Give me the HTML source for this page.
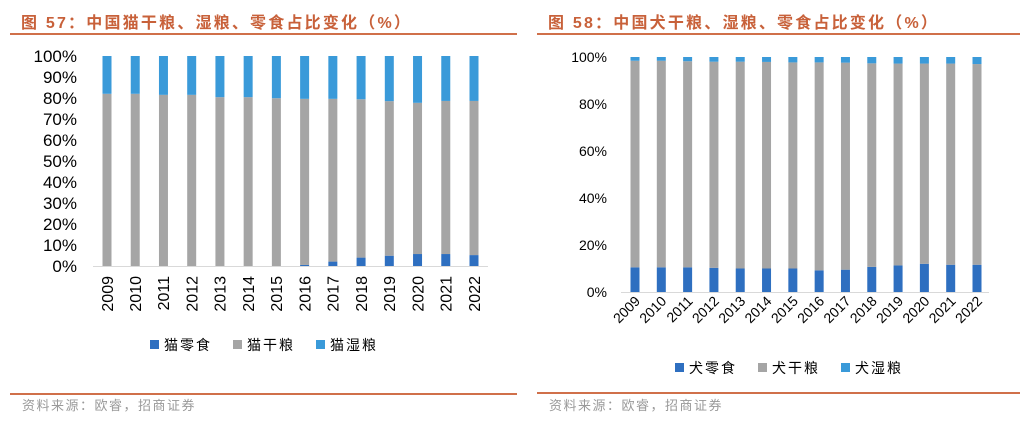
<!DOCTYPE html>
<html><head><meta charset="utf-8">
<style>
body{margin:0;background:#fff;width:1030px;height:425px;overflow:hidden;font-family:"Liberation Sans","Noto Sans CJK SC",sans-serif;}
svg{display:block}
</style></head>
<body>
<svg id="chart" width="1030" height="425" xmlns="http://www.w3.org/2000/svg">
<g>
<text x="21" y="28" font-size="16" font-weight="bold" fill="#c8613a" letter-spacing="2.2" font-family="'Liberation Sans','Noto Sans CJK SC',sans-serif">图 57：中国猫干粮、湿粮、零食占比变化（%）</text>
<rect x="10" y="33" width="507" height="2" fill="#d0704a"/>
<rect x="10" y="393" width="507" height="2" fill="#d0704a"/>
<text x="22" y="410" font-size="13" fill="#999" letter-spacing="1.5" font-family="'Liberation Sans','Noto Sans CJK SC',sans-serif">资料来源：欧睿，招商证券</text>
</g>
<g>
<text x="548" y="28" font-size="16" font-weight="bold" fill="#c8613a" letter-spacing="2.2" font-family="'Liberation Sans','Noto Sans CJK SC',sans-serif">图 58：中国犬干粮、湿粮、零食占比变化（%）</text>
<rect x="537" y="33" width="483" height="2" fill="#d0704a"/>
<rect x="537" y="392" width="483" height="2" fill="#d0704a"/>
<text x="549" y="410" font-size="13" fill="#999" letter-spacing="1.5" font-family="'Liberation Sans','Noto Sans CJK SC',sans-serif">资料来源：欧睿，招商证券</text>
</g>
<g id="left"></g>
<g id="right"></g>
</svg>
<script>
const years = ["2009","2010","2011","2012","2013","2014","2015","2016","2017","2018","2019","2020","2021","2022"];
const catSnack = [0,0,0,0,0,0,0,0.5,2.1,4.0,4.9,5.7,5.7,5.2];
const catDry = [82.0,82.0,81.5,81.5,80.4,80.4,79.9,79.1,77.5,75.4,73.6,72.0,72.9,73.4];
const catWet = [18.0,18.0,18.5,18.5,19.6,19.6,20.1,20.4,20.4,20.6,21.5,22.3,21.4,21.4];
const dogSnack = [10.5,10.5,10.5,10.3,10.0,10.0,10.0,9.2,9.5,10.7,11.3,12.0,11.6,11.6];
const dogDry = [87.9,87.9,87.7,87.7,88.0,87.9,87.7,88.5,88.1,86.6,85.9,85.2,85.6,85.4];
const dogWet = [1.6,1.6,1.8,2.0,2.0,2.1,2.3,2.3,2.4,2.7,2.8,2.8,2.8,3.0];
const catTicks = [0,10,20,30,40,50,60,70,80,90,100];
const dogTicks = [0,20,40,60,80,100];
const catLegend = ["猫零食","猫干粮","猫湿粮"];
const dogLegend = ["犬零食","犬干粮","犬湿粮"];
const colors = ["#2e6fc0","#a5a5a5","#3a9ad9"];
const NS = "http://www.w3.org/2000/svg";
function mk(parent, tag, attrs, text){
  const e = document.createElementNS(NS, tag);
  for (const k in attrs) e.setAttribute(k, attrs[k]);
  if (text !== undefined) e.textContent = text;
  parent.appendChild(e); return e;
}
function draw(g, cfg){
  const y = v => cfg.y0 - (cfg.y0 - cfg.y100) * v / 100;
  const x = i => cfg.xFirst + (cfg.xLast - cfg.xFirst) * i / (years.length - 1);
  cfg.ticks.forEach(t => {
    const tl = mk(g, "text", {x: cfg.labelX, y: y(t) + cfg.fs*0.36, "font-size": cfg.fs, "text-anchor": "end", fill: "#000"}, t + "%");
    
    
  });
  const series = [cfg.s1, cfg.s2, cfg.s3];
  years.forEach((yr, i) => {
    let base = 0;
    series.forEach((s, k) => {
      const v = s[i];
      if (v > 0) {
        const r = mk(g, "rect", {x: x(i) - cfg.bw/2, y: y(base + v), width: cfg.bw, height: y(base) - y(base + v), fill: colors[k]});
        
        
      }
      base += v;
    });
    let lab;
    if (cfg.rot === 90) {
      lab = mk(g, "text", {x: 0, y: 0, "font-size": cfg.xfs, "text-anchor": "end", fill: "#000",
        transform: `translate(${x(i) + cfg.xfs*0.36},${cfg.y0 + 10}) rotate(-90)`}, yr);
    } else {
      lab = mk(g, "text", {x: 0, y: 0, "font-size": cfg.xfs, "text-anchor": "end", fill: "#000",
        transform: `translate(${x(i) + 6},${cfg.y0 + 10}) rotate(-45)`}, yr);
    }
    
    
  });
  const ax = mk(g, "line", {x1: cfg.axL, x2: cfg.axR, y1: cfg.y0 + 0.5, y2: cfg.y0 + 0.5, stroke: "#d9d9d9", "stroke-width": 1});
  
  
  cfg.legend.forEach((name, k) => {
    const lx = cfg.legX + k * 83;
    const sq = mk(g, "rect", {x: lx, y: cfg.legY - 5, width: 9, height: 9, fill: colors[k]});
    
    
    const lt = mk(g, "text", {x: lx + 14, y: cfg.legY + 5, "font-size": 14, fill: "#000", "letter-spacing": 2}, name);
    
    
  });
}
draw(document.getElementById("left"), {y0: 266, y100: 56, xFirst: 107, xLast: 474, bw: 9, labelX: 77, fs: 17, xfs: 16, rot: 90,
  axL: 93, axR: 488, ticks: catTicks, s1: catSnack, s2: catDry, s3: catWet, legend: catLegend, legX: 150, legY: 345});
draw(document.getElementById("right"), {y0: 292, y100: 57, xFirst: 635, xLast: 977, bw: 9, labelX: 607, fs: 14, xfs: 14, rot: 45,
  axL: 621, axR: 989, ticks: dogTicks, s1: dogSnack, s2: dogDry, s3: dogWet, legend: dogLegend, legX: 675, legY: 368});
</script>
</body></html>
